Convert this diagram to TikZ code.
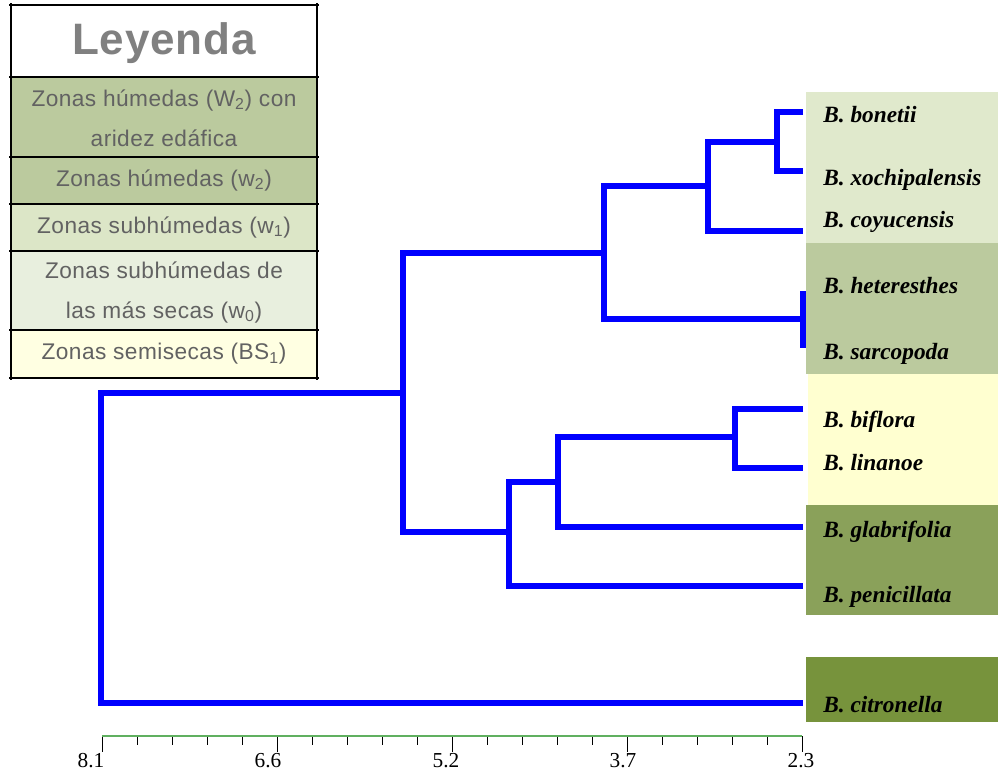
\documentclass[tikz,border=0pt]{standalone}
\usepackage{fontspec}
\setmainfont{Liberation Serif}
\newfontfamily\legfont[LetterSpace=2]{Liberation Sans}
\usetikzlibrary{positioning}

\definecolor{sage}{RGB}{187,202,158}
\definecolor{palegrn}{RGB}{220,230,199}
\definecolor{mistgrn}{RGB}{232,239,222}
\definecolor{cream}{RGB}{255,255,226}
\definecolor{leafgrn}{RGB}{224,233,204}
\definecolor{butter}{RGB}{255,255,208}
\definecolor{olive}{RGB}{138,161,90}
\definecolor{darkolive}{RGB}{119,147,60}
\definecolor{legtext}{RGB}{98,98,98}
\definecolor{axisgrn}{RGB}{96,176,96}

\begin{document}
\begin{tikzpicture}[x=0.75pt,y=-0.75pt,
    branch/.style = {draw=blue, line width=4.5pt, line join=miter},
    leaf/.style = {anchor=base west, inner sep=0pt, font=\bfseries\itshape\fontsize{17.5}{20}\selectfont},
    legtxt/.style = {text=legtext, align=center, inner sep=0pt, font=\legfont\fontsize{17}{30}\selectfont},
    ticklbl/.style = {inner sep=0pt, font=\fontsize{16}{18}\selectfont}]
    \useasboundingbox (0,0) rectangle (998,771);

    % coloured bands behind the species names
    \fill[leafgrn] (806,92) rectangle (998,243);
    \fill[sage] (806,243) rectangle (998,374);
    \fill[butter] (808,374) rectangle (998,505);
    \fill[olive] (806,505) rectangle (998,615);
    \fill[darkolive] (806,657) rectangle (998,722);

    % legend table
    \fill[sage] (11,77) rectangle (317,204);
    \fill[palegrn] (11,204) rectangle (317,251);
    \fill[mistgrn] (11,251) rectangle (317,330);
    \fill[cream] (11,330) rectangle (317,378);
    \foreach \y in {5,77,157,204,251,330,378}
        \draw[line width=1.5pt] (9,\y) -- (319,\y);
    \draw[line width=1.5pt] (11,3) -- (11,380) (317,3) -- (317,380);
    \node[text={rgb,255:red,128;green,128;blue,128}, font=\bfseries\fontsize{33}{35}\selectfont] (title) at (164,43) {\legfont Leyenda};
    \node[legtxt] (w2a) at (164,118) {Zonas húmedas (W\textsubscript{2}) con\\aridez edáfica};
    \node[legtxt] (w2) at (164,180) {Zonas húmedas (w\textsubscript{2})};
    \node[legtxt] (w1) at (164,227) {Zonas subhúmedas (w\textsubscript{1})};
    \node[legtxt] (w0) at (164,292) {Zonas subhúmedas de\\las más secas (w\textsubscript{0})};
    \node[legtxt] (bs1) at (164,354) {Zonas semisecas (BS\textsubscript{1})};

    % leaf ends
    \coordinate (bon) at (803,112);
    \coordinate (xoc) at (803,171);
    \coordinate (coy) at (803,231);
    \coordinate (het) at (803,291);
    \coordinate (sar) at (803,348);
    \coordinate (bif) at (803,409);
    \coordinate (lin) at (803,468);
    \coordinate (gla) at (803,527);
    \coordinate (pen) at (803,586);
    \coordinate (cit) at (803,703);

    % merge points
    \coordinate (m1) at (777,142);
    \coordinate (m2) at (708,186);
    \coordinate (m3) at (604,253);
    \coordinate (m4) at (803,319);
    \coordinate (m5) at (735,437);
    \coordinate (m6) at (558,482);
    \coordinate (m7) at (509,532);
    \coordinate (m8) at (403,393);
    \coordinate (root) at (101,550);

    % dendrogram
    \draw[branch] (bon) -| (m1) |- (xoc);
    \draw[branch] (m1) -| (m2) |- (coy);
    \draw[branch] (het) -- (sar);
    \draw[branch] (m2) -| (m3) |- (m4);
    \draw[branch] (bif) -| (m5) |- (lin);
    \draw[branch] (m5) -| (m6) |- (gla);
    \draw[branch] (m6) -| (m7) |- (pen);
    \draw[branch] (m3) -| (m8) |- (m7);
    \draw[branch] (m8) -| (root) |- (cit);

    % species names
    \node[leaf] (lbon) at (823,122) {B. bonetii};
    \node[leaf] (lxoc) at (823,185) {B. xochipalensis};
    \node[leaf] (lcoy) at (823,227) {B. coyucensis};
    \node[leaf] (lhet) at (823,293) {B. heteresthes};
    \node[leaf] (lsar) at (823,359) {B. sarcopoda};
    \node[leaf] (lbif) at (823,427) {B. biflora};
    \node[leaf] (llin) at (823,470) {B. linanoe};
    \node[leaf] (lgla) at (823,537) {B. glabrifolia};
    \node[leaf] (lpen) at (823,602) {B. penicillata};
    \node[leaf] (lcit) at (823,712) {B. citronella};

    % distance axis
    \coordinate (a0) at (102,736);
    \coordinate (a1) at (802,736);
    \foreach \i in {0,...,20}{
        \pgfmathsetmacro{\tx}{102+35*\i}
        \pgfmathsetmacro{\tl}{mod(\i,5)==0 ? 752 : 745}
        \draw[line width=0.6pt] (\tx,736) -- (\tx,\tl);
    }
    \draw[axisgrn, line width=2pt] (a0) -- (a1);
    \foreach \x/\v [count=\k] in {91/8.1, 268/6.6, 446/5.2, 623/3.7, 801/2.3}
        \node[ticklbl] (lab\k) at (\x,761) {\v};
\end{tikzpicture}
\end{document}
